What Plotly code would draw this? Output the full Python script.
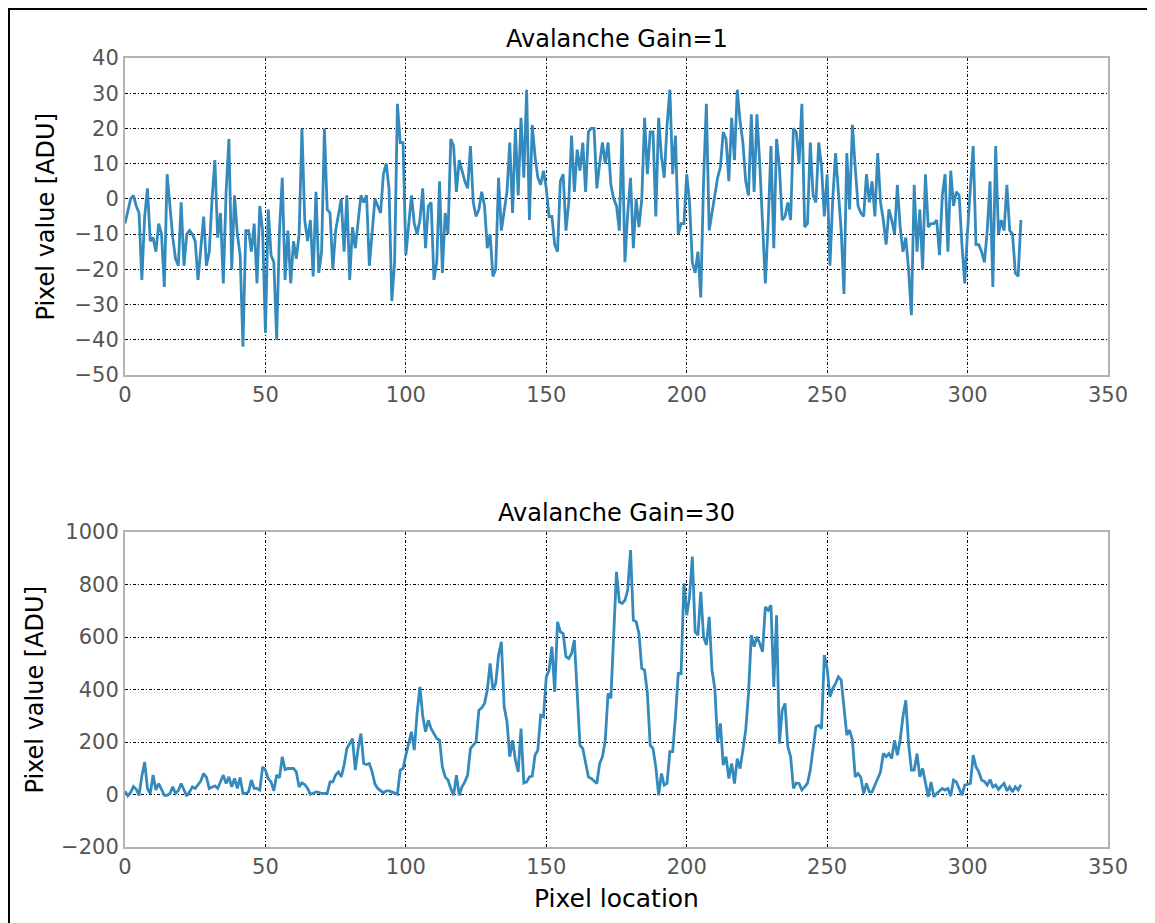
import plotly.graph_objects as go

# Avalanche Gain = 1 (pixel values, ADU), pixel locations 0..319
gain1_values = [
    -7, -3, 0, 1, -2, -4, -23, -5, 3, -12, -11, -15, -7, -10, -25, 7, -2, -11, -17, -19,
    -1, -19, -10, -9, -10, -12, -23, -14, -5, -19, -15, 0, 11, -11, -4, -24, 2, 17, -20, 1,
    -10, -16, -42, -9, -9, -15, -7, -24, -2, -9, -38, -3, -16, -18, -40, -9, 6, -23, -9, -24,
    -12, -17, -10, 20, -6, -12, -6, -22, 2, -21, -15, 20, -3, -4, -20, -9, -4, 0, -15, 1,
    -23, -8, -14, -6, 1, -1, 1, -19, -10, 0, -2, -4, 7, 10, 3, -29, -18, 27, 16, 16,
    -16, -8, 1, -7, -10, -6, 3, -14, -2, -1, -23, -18, 5, -21, -4, -10, 17, 15, 2, 11,
    8, 5, 3, 15, -1, -5, -3, 2, -2, -14, -10, -22, -20, 6, -9, -3, 2, 16, -4, 20,
    1, 23, 6, 31, -6, 21, 12, 6, 4, 8, 3, -5, -5, -13, -15, 5, 7, -9, -1, 18,
    2, 14, 8, 16, 2, 19, 20, 20, 3, 10, 16, 10, 16, 4, 0, -2, -9, 20, -18, -4,
    6, -14, 0, -8, 0, 23, 7, 19, 19, -5, 23, 12, 6, 21, 31, 7, 18, -10, -7, -7,
    7, -1, -18, -21, -15, -28, 5, 27, -9, -4, 1, 6, 9, 19, 17, 5, 23, 11, 31, 22,
    16, 5, 1, 24, 2, 24, 10, -6, -24, -7, 15, -14, 17, 9, -6, -5, -1, -6, 20, 19,
    10, 27, -8, -7, 16, 1, -1, 16, 9, -5, 7, -19, 0, 13, 2, -9, -27, 13, -3, 21,
    9, -2, -4, -5, 7, -1, 5, -5, 13, -1, -6, -13, -3, -6, -10, 4, -8, -15, -11, -20,
    -33, 4, -15, -3, -20, 7, -8, -7, -7, -6, -16, 1, 7, -15, 8, -2, 2, 1, -13, -24,
    -9, 3, 15, -13, -13, -15, -18, -9, 5, -25, 15, -10, -6, -9, 4, -9, -10, -21, -22, -6,
]

# Avalanche Gain = 30 (pixel values, ADU), pixel locations 0..319
gain30_values = [
    12, -5, 8, 30, 20, -3, 70, 124, 23, 4, 74, 17, 42, 20, -3, -3, 4, 29, 4, 15,
    42, 17, -6, 10, 29, 23, 40, 52, 80, 65, 23, 28, 33, 23, 50, 74, 42, 67, 29, 61,
    23, 65, 4, 4, 10, 55, 23, 23, 17, 105, 93, 60, 48, 14, 74, 64, 144, 95, 99, 99,
    99, 86, 29, 44, 38, 23, 1, 5, 10, 8, 4, 4, 4, 48, 48, 74, 86, 67, 112, 175,
    194, 213, 93, 175, 232, 118, 114, 118, 86, 40, 23, 14, 6, 14, 14, 10, 4, 1, 93, 99,
    150, 194, 239, 169, 309, 410, 300, 239, 283, 251, 232, 213, 207, 105, 67, 55, 23, -3, 74, -3,
    29, 48, 74, 175, 188, 201, 321, 330, 347, 398, 499, 398, 423, 531, 582, 334, 277, 144, 207, 131,
    86, 251, 44, 48, 67, 70, 150, 169, 302, 296, 448, 474, 563, 391, 658, 620, 613, 525, 518, 537,
    588, 410, 188, 175, 124, 67, 61, 50, 42, 118, 144, 207, 385, 366, 588, 848, 734, 728, 740, 779,
    931, 664, 658, 613, 480, 474, 385, 188, 175, 105, -3, 80, 36, 42, 163, 163, 296, 461, 461, 804,
    683, 753, 906, 620, 607, 772, 601, 569, 677, 474, 404, 201, 271, 112, 144, 61, 118, 42, 137, 99,
    169, 245, 385, 607, 563, 601, 575, 544, 715, 702, 721, 410, 683, 194, 321, 347, 182, 144, 23, 44,
    42, 17, 29, 42, 93, 180, 258, 264, 251, 531, 480, 372, 404, 423, 448, 436, 321, 226, 245, 207,
    67, 80, 65, 4, 42, 10, 10, 36, 60, 86, 156, 144, 156, 137, 207, 150, 207, 296, 359, 194,
    93, 93, 156, 67, 99, 48, -9, 48, -9, 4, 15, 23, 17, 23, -6, 55, 48, 23, -3, 36,
    40, 42, 150, 105, 86, 55, 50, 36, 57, 29, 36, 19, 32, 42, 14, 29, 10, 29, 17, 38,
]

pixel_location = list(range(len(gain1_values)))

titles = ["Avalanche Gain=1", "Avalanche Gain=30"]
y_label = "Pixel value [ADU]"
x_label = "Pixel location"

LINE = "#348ABD"
FONT = "DejaVu Sans, Liberation Sans, sans-serif"
TICK_COLOR = "#555555"
FRAME = "#b3b3b3"

# figure coordinates (page has 8px body margin, compensated here)
L, R, T, B = 117, 1100, 50, 839
W, H = 1155, 923
PH = B - T
PW = R - L

fig = go.Figure()
fig.add_trace(go.Scatter(x=pixel_location, y=gain1_values, mode="lines",
                         line=dict(color=LINE, width=2.8), xaxis="x", yaxis="y",
                         showlegend=False))
fig.add_trace(go.Scatter(x=pixel_location, y=gain30_values, mode="lines",
                         line=dict(color=LINE, width=2.8), xaxis="x2", yaxis="y2",
                         showlegend=False))

axis_common = dict(
    showgrid=True, gridcolor="#000000", gridwidth=1.2, griddash="3px,2px,1px,2px",
    showline=True, linecolor=FRAME, linewidth=2, mirror=True,
    zeroline=False, ticks="",
    tickfont=dict(family=FONT, size=21, color=TICK_COLOR),
)

top_dom = [(B - 367) / PH, 1.0]
bot_dom = [0.0, (B - 524) / PH]

fig.update_layout(
    width=W, height=H,
    margin=dict(l=L, r=W - R, t=T, b=H - B),
    paper_bgcolor="white", plot_bgcolor="white",
    xaxis=dict(axis_common, domain=[0, 1], range=[0, 350], dtick=50, tick0=0, anchor="y"),
    yaxis=dict(axis_common, domain=top_dom, range=[-50, 40], dtick=10, tick0=0, anchor="x"),
    xaxis2=dict(axis_common, domain=[0, 1], range=[0, 350], dtick=50, tick0=0, anchor="y2"),
    yaxis2=dict(axis_common, domain=bot_dom, range=[-200, 1000], dtick=200, tick0=0, anchor="x2"),
)

annotations = [
    dict(text=titles[0], x=0.5, y=top_dom[1], xref="paper", yref="paper",
         xanchor="center", yanchor="bottom", yshift=3, showarrow=False,
         font=dict(family=FONT, size=24, color="#000000")),
    dict(text=titles[1], x=0.5, y=bot_dom[1], xref="paper", yref="paper",
         xanchor="center", yanchor="bottom", yshift=3, showarrow=False,
         font=dict(family=FONT, size=24, color="#000000")),
    dict(text=y_label, x=0, y=sum(top_dom) / 2, xref="paper", yref="paper",
         xanchor="center", yanchor="middle", xshift=-80, textangle=-90, showarrow=False,
         font=dict(family=FONT, size=24, color="#000000")),
    dict(text=y_label, x=0, y=sum(bot_dom) / 2, xref="paper", yref="paper",
         xanchor="center", yanchor="middle", xshift=-91, textangle=-90, showarrow=False,
         font=dict(family=FONT, size=24, color="#000000")),
    dict(text=x_label, x=0.5, y=0, xref="paper", yref="paper",
         xanchor="center", yanchor="top", yshift=-35, showarrow=False,
         font=dict(family=FONT, size=25, color="#000000")),
]
fig.update_layout(annotations=annotations)

# outer black frame of the figure image
fig.add_shape(type="rect", xref="paper", yref="paper",
              x0=(1 - L) / PW, x1=(1144 - L) / PW,
              y0=(B - 940) / PH, y1=(B - 1) / PH,
              line=dict(color="#000000", width=2), fillcolor="rgba(0,0,0,0)", layer="above")

fig.write_html("out.html")
